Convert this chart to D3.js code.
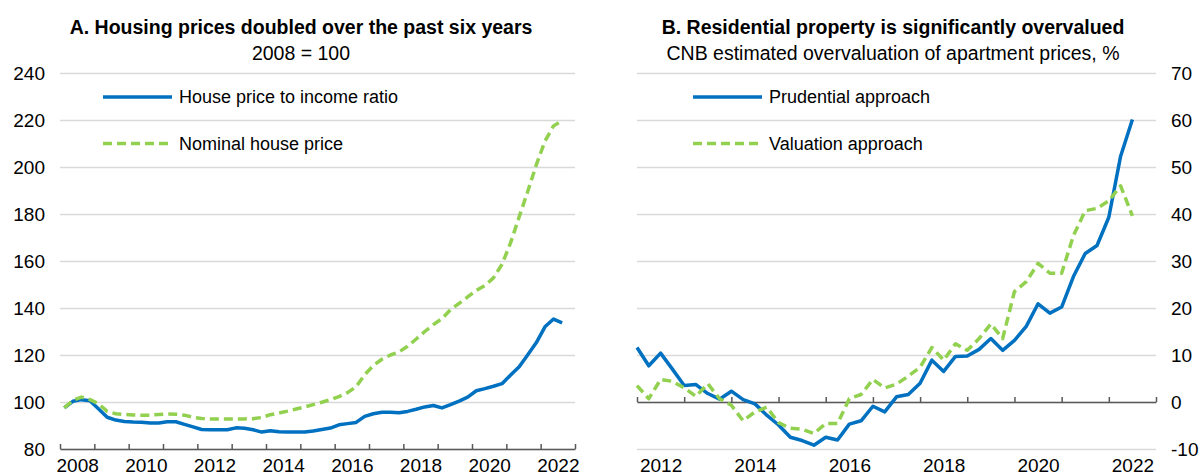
<!DOCTYPE html>
<html>
<head>
<meta charset="utf-8">
<script src="https://cdn.jsdelivr.net/npm/d3@7"></script>
<style>
  body { margin: 0; background: #fff; }
  svg text { font-family: "Liberation Sans", Arial, sans-serif; fill: #000; }
  .grid line { stroke: #d9d9d9; stroke-width: 1.5; }
  .axis path, .axis line { stroke: #595959; stroke-width: 1.5; }
</style>
</head>
<body>
<div class="root"></div>
<script>
// Panel A: quarterly, 2008Q1 - 2022Q3 (2008 = 100)
const yTicksA = [80, 100, 120, 140, 160, 180, 200, 220, 240];
const xLabelsA = [2008, 2010, 2012, 2014, 2016, 2018, 2020, 2022];
const priceToIncome = [
  97.5, 100.3, 101.0, 100.5, 97.0, 93.5, 92.3, 91.7, 91.5, 91.4,
  91.1, 91.1, 91.6, 91.6, 90.5, 89.4, 88.3, 88.2, 88.2, 88.2,
  89.0, 88.8, 88.2, 87.2, 87.8, 87.3, 87.2, 87.2, 87.2, 87.7,
  88.3, 88.9, 90.3, 90.8, 91.3, 93.9, 95.0, 95.6, 95.6, 95.4,
  96.0, 96.9, 97.9, 98.5, 97.5, 98.9, 100.4, 102.1, 104.8, 105.7,
  106.7, 107.8, 111.5, 115.0, 120.1, 125.3, 132.0, 135.3, 133.7
];
const nominalPrice = [
  97.5, 100.7, 102.1, 101.0, 99.2, 96.0, 95.0, 94.7, 94.5, 94.4,
  94.4, 94.7, 94.9, 94.8, 94.4, 93.5, 93.0, 92.8, 92.8, 92.8,
  92.8, 92.8, 92.9, 93.4, 94.6, 95.3, 96.1, 97.0, 97.9, 98.9,
  99.9, 101.0, 102.3, 104.0, 106.5, 111.6, 115.5, 118.2, 120.0, 121.3,
  123.7, 126.8, 130.0, 132.9, 135.5, 139.3, 142.0, 144.7, 147.5, 149.6,
  152.8, 158.6, 167.8, 178.8, 189.7, 201.0, 211.0, 217.5, 219.7
];

// Panel B: quarterly, 2012Q1 - 2022Q3, % overvaluation
const yTicksB = [-10, 0, 10, 20, 30, 40, 50, 60, 70];
const xLabelsB = [2012, 2014, 2016, 2018, 2020, 2022];
const prudential = [
  11.6, 7.7, 10.4, 7.0, 3.5, 3.7, 1.8, 0.6, 2.3, 0.5,
  -0.4, -2.8, -4.9, -7.5, -8.2, -9.2, -7.5, -8.1, -4.7, -4.0,
  -0.9, -2.1, 1.1, 1.6, 4.0, 8.9, 6.5, 9.7, 9.8, 11.2,
  13.5, 11.0, 13.1, 16.1, 20.9, 18.9, 20.2, 26.7, 31.6, 33.3,
  39.3, 52.3, 60.1
];
const valuation = [
  3.5, 0.7, 4.8, 4.4, 3.0, 1.2, 3.9, 0.7, -0.7, -4.0,
  -2.1, -1.1, -4.4, -5.6, -5.8, -6.7, -4.6, -4.6, 0.7, 1.6,
  4.8, 3.0, 3.8, 5.5, 7.4, 11.6, 8.9, 12.4, 11.0, 13.5,
  16.6, 13.5, 23.5, 25.6, 29.5, 27.4, 27.4, 35.4, 40.7, 41.2,
  42.8, 46.0, 39.6
];

const blue = '#0070c0';
const green = '#92d050';

const svg = d3.select('.root')
  .append('svg')
  .attr('width', 1202)
  .attr('height', 476);

function panel(opts) {
  const x = d3.scaleLinear().domain(opts.xDomain).range(opts.xRange);
  const y = d3.scaleLinear().domain(opts.yDomain).range([449, 73]);
  const w = opts.xRange[1] - opts.xRange[0];

  svg.append('text')
    .attr('x', opts.titleX).attr('y', 34)
    .attr('text-anchor', 'middle')
    .style('font-size', '19.5px').style('font-weight', 'bold')
    .text(opts.title);
  svg.append('text')
    .attr('x', opts.titleX).attr('y', 60)
    .attr('text-anchor', 'middle')
    .style('font-size', '19.5px')
    .text(opts.subtitle);

  // gridlines + y labels (plain hyphen for negatives)
  const yAxis = opts.yRight
    ? d3.axisRight(y).tickSize(-w).tickPadding(15)
    : d3.axisLeft(y).tickSize(-w).tickPadding(15);
  const gy = svg.append('g')
    .attr('class', 'grid')
    .attr('transform', `translate(${opts.yRight ? opts.xRange[1] : opts.xRange[0]},0)`)
    .call(yAxis.tickValues(opts.yTicks).tickFormat(d => String(d)));
  gy.select('.domain').remove();
  gy.selectAll('text').style('font-size', '19px')
    .attr('text-anchor', opts.yRight ? 'start' : 'end');

  // x axis with ticks pointing up at year boundaries
  const years = d3.range(opts.xDomain[0], opts.xDomain[1] + 1);
  svg.append('g')
    .attr('class', 'axis')
    .attr('transform', `translate(0,${y(opts.axisAt)})`)
    .call(d3.axisBottom(x).tickValues(years).tickSize(-5).tickSizeOuter(0).tickFormat(''));

  // year labels centred inside each year
  const gl = svg.append('g')
    .attr('transform', 'translate(0,449)')
    .call(d3.axisBottom(x).tickValues(opts.xLabels.map(d => d + 0.5)).tickSize(0).tickPadding(10)
      .tickFormat(d => Math.floor(d)));
  gl.select('.domain').remove();
  gl.selectAll('text').style('font-size', '19px');

  const line = d3.line()
    .x((d, i) => x(opts.t0 + i / 4))
    .y(d => y(d));

  opts.series.forEach(s => {
    svg.append('path')
      .datum(s.values)
      .attr('fill', 'none')
      .attr('stroke', s.color)
      .attr('stroke-width', 3.5)
      .attr('stroke-linejoin', 'round')
      .attr('stroke-dasharray', s.dashed ? '9,5' : null)
      .attr('d', line);
  });

  // legend
  opts.series.forEach((s, i) => {
    const ly = 97 + i * 46.5;
    svg.append('line')
      .attr('x1', opts.legendX).attr('x2', opts.legendX + 69)
      .attr('y1', ly).attr('y2', ly)
      .attr('stroke', s.color).attr('stroke-width', 3.5)
      .attr('stroke-dasharray', s.dashed ? '9,5' : null);
    svg.append('text')
      .attr('x', opts.legendX + 76).attr('y', ly)
      .attr('dy', '0.35em')
      .style('font-size', '18px')
      .text(s.name);
  });
}

panel({
  title: 'A. Housing prices doubled over the past six years',
  subtitle: '2008 = 100',
  titleX: 301,
  xDomain: [2008, 2023], xRange: [60, 575],
  yDomain: [80, 240], yTicks: yTicksA, axisAt: 80,
  xLabels: xLabelsA, t0: 2008.125, yRight: false, legendX: 103,
  series: [
    { name: 'House price to income ratio', values: priceToIncome, color: blue },
    { name: 'Nominal house price', values: nominalPrice, color: green, dashed: true }
  ]
});

panel({
  title: 'B. Residential property is significantly overvalued',
  subtitle: 'CNB estimated overvaluation of apartment prices, %',
  titleX: 893,
  xDomain: [2012, 2023], xRange: [637, 1156],
  yDomain: [-10, 70], yTicks: yTicksB, axisAt: 0,
  xLabels: xLabelsB, t0: 2012, yRight: true, legendX: 693,
  series: [
    { name: 'Prudential approach', values: prudential, color: blue },
    { name: 'Valuation approach', values: valuation, color: green, dashed: true }
  ]
});
</script>
</body>
</html>
